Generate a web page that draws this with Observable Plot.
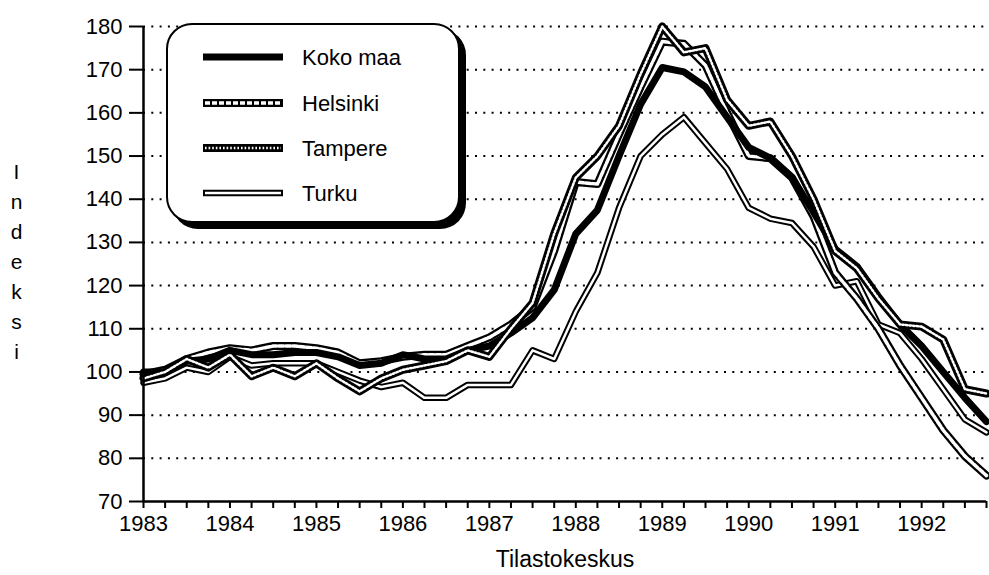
<!DOCTYPE html>
<html>
<head>
<meta charset="utf-8">
<script src="https://cdn.jsdelivr.net/npm/d3@7"></script>
<script src="https://cdn.jsdelivr.net/npm/@observablehq/plot@0.6"></script>
<style>
  html, body { margin: 0; padding: 0; background: #fff; }
  #wrap { position: relative; width: 989px; height: 575px; font-family: "Liberation Sans", Arial, Helvetica, sans-serif; }
  #legend { position: absolute; left: 166px; top: 23px; width: 290px; height: 196px; border: 2px solid #000; border-radius: 26px; box-shadow: 6px 6px 0 #000; background: #fff; }
</style>
</head>
<body>
<div id="wrap"><div id="chart"></div><div id="legend"></div></div>
<script>
const quarters = [
  1983.00, 1983.25, 1983.50, 1983.75,
  1984.00, 1984.25, 1984.50, 1984.75,
  1985.00, 1985.25, 1985.50, 1985.75,
  1986.00, 1986.25, 1986.50, 1986.75,
  1987.00, 1987.25, 1987.50, 1987.75,
  1988.00, 1988.25, 1988.50, 1988.75,
  1989.00, 1989.25, 1989.50, 1989.75,
  1990.00, 1990.25, 1990.50, 1990.75,
  1991.00, 1991.25, 1991.50, 1991.75,
  1992.00, 1992.25, 1992.50, 1992.75
];
const yearLabels = [1983, 1984, 1985, 1986, 1987, 1988, 1989, 1990, 1991, 1992];
const yTicks = [70, 80, 90, 100, 110, 120, 130, 140, 150, 160, 170, 180];
const gridValues = [80, 90, 100, 110, 120, 130, 140, 150, 160, 170, 180];

const kokoMaa = [
  100, 100, 102.5, 103,
  105, 104, 104, 104.5,
  104.5, 103.5, 101.5, 102,
  104, 103, 103, 105,
  106, 109, 112.5, 119,
  132, 137.5, 150, 162,
  170.5, 169.5, 166, 159,
  152, 149.5, 145, 137,
  128.5, 124.5, 117.5, 111,
  106, 100, 94, 88.5
];
const helsinki = [
  99.5, 100.5, 103, 104.5,
  105.5, 105, 106, 106,
  105.5, 104.5, 102, 102.5,
  103.5, 104, 104, 106,
  108, 111, 115, 128,
  144, 143.5, 155, 166,
  176.5, 176, 171, 160,
  150, 149.5, 145, 136,
  123, 117, 110, 101.5,
  94, 86.5, 80.5, 76
];
const tampere = [
  98.5, 100, 103, 101,
  104, 99, 101, 99,
  102, 98.5, 95.5, 98.5,
  100.5, 101.5, 102.5, 105,
  103.5, 110, 116, 132,
  145, 150, 157, 169,
  180, 174, 175, 163,
  157, 158, 150, 140,
  128, 124, 117, 111,
  110.5, 107.5, 96, 95
];
const turku = [
  97.5, 98.5, 101, 100,
  103.5, 101.5, 102, 102,
  102, 100, 98, 96.5,
  97.5, 94, 94, 97,
  97, 97, 105, 103,
  114, 123, 138, 150,
  155, 159, 153, 147,
  138, 135.5, 134.5, 129,
  120, 121, 111, 109,
  103, 96, 89, 86
];
const seriesNames = ["Koko maa", "Helsinki", "Tampere", "Turku"];

// line styles: outer black stroke + optional white inner stroke
const styles = {
  "Koko maa": {outer: 7, inner: 0, dash: null},
  "Helsinki": {outer: 8, inner: 3.5, dash: "5,2"},
  "Tampere": {outer: 8, inner: 2.5, dash: "1.6,2"},
  "Turku": {outer: 6.5, inner: 2.5, dash: null}
};
const seriesData = {"Koko maa": kokoMaa, "Helsinki": helsinki, "Tampere": tampere, "Turku": turku};
const drawOrder = ["Turku", "Helsinki", "Koko maa", "Tampere"];

function seriesMarks(name) {
  const vals = seriesData[name];
  const st = styles[name];
  const opts = {x: (d, i) => quarters[i], y: d => d, strokeLinejoin: "round"};
  const out = [Plot.line(vals, {...opts, stroke: "#000", strokeWidth: st.outer})];
  if (st.inner) out.push(Plot.line(vals, {...opts, stroke: "#fff", strokeWidth: st.inner, strokeDasharray: st.dash || undefined}));
  return out;
}

const font = '"Liberation Sans", Arial, Helvetica, sans-serif';
const chart = Plot.plot({
  width: 989,
  height: 575,
  marginLeft: 143,
  marginRight: 3,
  marginTop: 26,
  marginBottom: 74,
  style: {fontFamily: font, color: "#000", background: "#fff"},
  x: {domain: [1983, 1992.75], label: null},
  y: {domain: [70, 180], label: null},
  marks: [
    Plot.ruleY(gridValues, {stroke: "#000", strokeWidth: 2, strokeDasharray: "2,6.3"}),
    ...drawOrder.flatMap(seriesMarks),
    Plot.ruleX([1983], {stroke: "#000", strokeWidth: 2.5}),
    Plot.ruleY([70], {stroke: "#000", strokeWidth: 2.5}),
    Plot.axisY({ticks: yTicks, tickSize: 14, strokeWidth: 2, tickFormat: () => "", label: null}),
    Plot.axisX({ticks: quarters, tickSize: 7, strokeWidth: 2, tickFormat: () => "", label: null}),
    Plot.text(yTicks, {y: d => d, text: d => String(d), frameAnchor: "left", textAnchor: "end", dx: -21, fontSize: 22, fill: "#000"}),
    Plot.text(yearLabels, {x: d => d, text: d => String(d), frameAnchor: "bottom", dy: 29, fontSize: 22, fill: "#000"}),
    Plot.text(["Tilastokeskus"], {frameAnchor: "bottom", dy: 65, fontSize: 23}),
    Plot.text(["I\nn\nd\ne\nk\ns\ni"], {frameAnchor: "left", dx: -127, dy: -5, fontSize: 21, lineHeight: 1.43, textAnchor: "middle"})
  ]
});
document.getElementById("chart").appendChild(chart);

// legend
const lg = d3.select("#legend").append("svg").attr("width", 290).attr("height", 196);
const legendY = [32, 78, 123, 168];
seriesNames.forEach((name, i) => {
  const st = styles[name];
  const y = legendY[i];
  lg.append("line").attr("x1", 35).attr("x2", 115).attr("y1", y).attr("y2", y)
    .attr("stroke", "#000").attr("stroke-width", st.outer);
  if (st.inner) {
    const l = lg.append("line").attr("x1", 37).attr("x2", 113).attr("y1", y).attr("y2", y)
      .attr("stroke", "#fff").attr("stroke-width", st.inner);
    if (st.dash) l.attr("stroke-dasharray", st.dash);
  }
  lg.append("text").attr("x", 134).attr("y", y).attr("dy", "0.35em")
    .attr("font-size", 22).attr("font-family", font).attr("fill", "#000").text(name);
});
</script>
</body>
</html>
